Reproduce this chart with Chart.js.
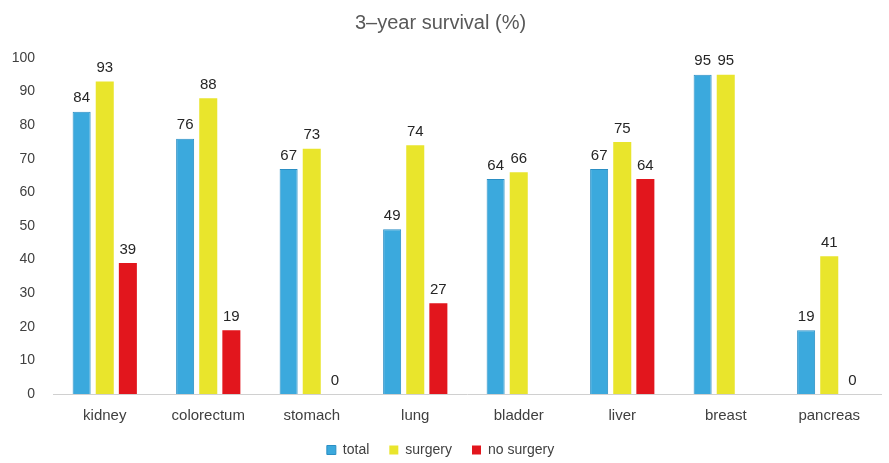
<!DOCTYPE html>
<html>
<head>
<meta charset="utf-8">
<script src="https://cdn.jsdelivr.net/npm/chart.js@4"></script>
<style>
  html, body { margin: 0; padding: 0; background: #fff; }
  #wrap { width: 889px; height: 463px; }
</style>
</head>
<body>
<div id="wrap"><canvas id="chart" width="889" height="463"></canvas></div>
<script>
const categories = ['kidney', 'colorectum', 'stomach', 'lung', 'bladder', 'liver', 'breast', 'pancreas'];
const total = [84, 76, 67, 49, 64, 67, 95, 19];
const surgery = [93, 88, 73, 74, 66, 75, 95, 41];
const noSurgery = [39, 19, 0, 27, null, 64, null, 0];
const yTicks = [0, 10, 20, 30, 40, 50, 60, 70, 80, 90, 100];

const FONT = '"Liberation Sans", Arial, sans-serif';

// draw the value above each bar
const valueLabels = {
    id: 'valueLabels',
    afterDatasetsDraw(chart) {
        const ctx = chart.ctx;
        ctx.save();
        ctx.font = '15px ' + FONT;
        ctx.fillStyle = '#262626';
        ctx.textAlign = 'center';
        ctx.textBaseline = 'bottom';
        chart.data.datasets.forEach((ds, i) => {
            chart.getDatasetMeta(i).data.forEach((bar, j) => {
                const v = ds.data[j];
                if (v === null || v === undefined) return;
                ctx.fillText(String(v), bar.x, bar.y - 6);
            });
        });
        ctx.restore();
    }
};

new Chart(document.getElementById('chart'), {
    type: 'bar',
    data: {
        labels: categories,
        datasets: [
            { label: 'total', data: total, backgroundColor: '#3ba9dd', borderColor: '#2b8fc4', borderWidth: 1 },
            { label: 'surgery', data: surgery, backgroundColor: '#e9e52c', borderWidth: 0 },
            { label: 'no surgery', data: noSurgery, backgroundColor: '#e2161d', borderWidth: 0 }
        ]
    },
    options: {
        responsive: false,
        animation: false,
        layout: { padding: { left: 0, right: 8, top: 0, bottom: -4 } },
        datasets: { bar: { categoryPercentage: 0.67, barPercentage: 0.78 } },
        plugins: {
            title: {
                display: true,
                text: '3\u2013year survival (%)',
                color: '#595959',
                font: { family: FONT, size: 20, weight: 'normal' },
                padding: { top: 11, bottom: 23 }
            },
            legend: {
                position: 'bottom',
                labels: {
                    color: '#404040',
                    font: { family: FONT, size: 14 },
                    boxWidth: 9,
                    boxHeight: 9,
                    padding: 20
                }
            },
            tooltip: { enabled: false }
        },
        scales: {
            x: {
                afterFit(axis) { axis.height -= 15; },
                grid: { display: false, drawTicks: false },
                border: { color: '#d0d0d0' },
                ticks: { color: '#404040', font: { family: FONT, size: 15 }, padding: 13 }
            },
            y: {
                min: 0,
                max: 100,
                afterBuildTicks(axis) { axis.ticks = yTicks.map(v => ({ value: v })); },
                afterFit(axis) { axis.width = 53; },
                grid: { display: false, drawTicks: false },
                border: { display: false },
                ticks: { color: '#404040', font: { family: FONT, size: 14 }, padding: 18 }
            }
        }
    },
    plugins: [valueLabels]
});
</script>
</body>
</html>
